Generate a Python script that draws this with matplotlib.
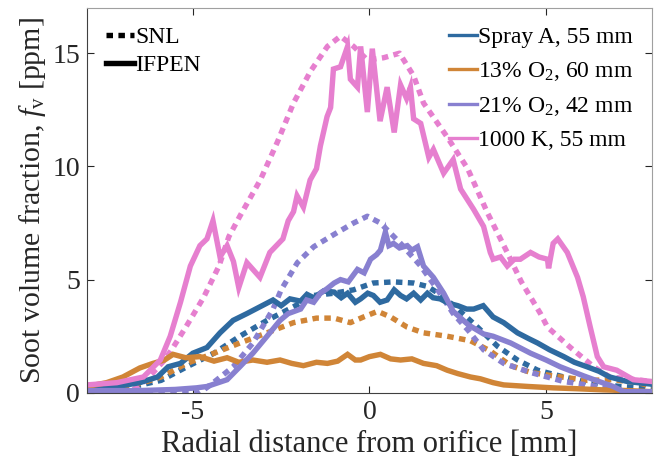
import matplotlib
matplotlib.use("Agg")
import matplotlib.pyplot as plt
from matplotlib.lines import Line2D

plt.rcParams["font.family"] = ["Liberation Serif", "DejaVu Serif"]
plt.rcParams["mathtext.fontset"] = "custom"
plt.rcParams["mathtext.rm"] = "Liberation Serif"
plt.rcParams["mathtext.it"] = "Liberation Serif:italic"
plt.rcParams["axes.unicode_minus"] = False

# SNL (dashed) profiles
snl_sprayA_x = [-8, -6.7, -5.9, -5.17, -4.4, -3.67, -2.9, -2.15, -1.58, -1.0, -0.45, 0.1, 0.68, 1.25, 1.64, 2.0,
                2.5, 3.06, 3.63, 4.19, 4.76, 5.5, 6.26, 7.1, 8]
snl_sprayA_y = [0.13, 0.27, 0.55, 1.15, 1.75, 2.5, 3.2, 3.8, 4.3, 4.4, 4.55, 4.85, 4.9, 4.85, 4.7, 4.35,
                3.7, 2.9, 2.05, 1.45, 1.0, 0.7, 0.43, 0.28, 0.2]

snl_o13_x = [-8, -7, -6.4, -5.9, -5.17, -4.4, -3.67, -2.9, -2.15, -1.5, -1.0, -0.54, -0.17, 0.23, 0.6, 1.07,
             1.53, 2.2, 2.86, 3.42, 4.0, 4.56, 5.2, 6.16, 6.9, 7.6, 8]
snl_o13_y = [0.13, 0.25, 0.45, 0.7, 1.3, 1.75, 2.2, 2.65, 3.1, 3.3, 3.3, 3.1, 3.35, 3.6, 3.35, 2.9,
             2.65, 2.5, 2.3, 1.85, 1.2, 0.9, 0.75, 0.55, 0.58, 0.45, 0.28]

snl_o21_x = [-8, -4.8, -4.42, -3.86, -3.3, -2.73, -2.5, -2.04, -1.58, -1.0, -0.45, -0.06, 0.31, 0.88, 1.45,
             1.93, 2.37, 2.8, 3.23, 3.8, 4.56, 5.5, 6.45, 7.2, 8]
snl_o21_y = [0.0, 0.0, 0.45, 1.15, 2.2, 3.7, 4.55, 5.75, 6.45, 7.0, 7.5, 7.8, 7.5, 6.6, 5.6,
             4.55, 3.5, 2.75, 1.9, 1.3, 0.9, 0.5, 0.28, 0.05, 0.05]

snl_1000k_x = [-8, -6.8, -6.3, -5.8, -5.56, -5.2, -4.7, -4.26, -3.98, -3.67, -3.09, -2.6, -2.15, -1.67, -1.19,
               -0.82, -0.45, -0.06, 0.4, 0.85, 1.25, 1.53, 2.2, 2.78, 3.34, 3.9, 4.3, 4.84, 5.04, 5.69, 6.35,
               6.8, 7.6, 8]
snl_1000k_y = [0.0, 0.0, 0.6, 1.45, 2.0, 2.9, 4.2, 5.6, 6.9, 7.8, 9.4, 11.1, 12.8, 14.2, 15.3,
               15.75, 15.3, 14.7, 14.8, 15.0, 14.0, 12.8, 11.3, 9.9, 7.95, 6.2, 4.9, 3.5, 2.9, 2.0, 1.15,
               0.7, 0.57, 0.5]

# IFPEN (solid) profiles
ifp_sprayA_x = [-8, -7.15, -6.5, -6.0, -5.7, -5.35, -5.0, -4.6, -4.23, -3.86, -3.47, -3.1, -2.73, -2.5, -2.25,
                -1.95, -1.77, -1.58, -1.3, -1.0, -0.8, -0.62, -0.4, -0.25, -0.05, 0.11, 0.3, 0.5, 0.7, 0.88,
                1.05, 1.25, 1.45, 1.64, 1.8, 2.0, 2.25, 2.5, 2.75, 2.95, 3.22, 3.5, 3.8, 4.19, 4.5, 4.76,
                5.1, 5.5, 5.8, 6.16, 6.5, 6.8, 7.3, 8]
ifp_sprayA_y = [0.22, 0.28, 0.45, 0.7, 1.15, 1.3, 1.75, 2.0, 2.65, 3.2, 3.5, 3.8, 4.1, 3.85, 4.15,
                4.05, 4.35, 4.2, 4.5, 4.45, 4.2, 4.4, 4.0, 4.15, 4.4, 4.3, 4.0, 4.1, 4.55, 4.3,
                4.15, 4.4, 4.1, 4.4, 4.2, 4.15, 3.95, 3.85, 3.7, 3.7, 3.85, 3.35, 3.1, 2.65, 2.4, 2.2,
                1.9, 1.6, 1.35, 1.15, 0.95, 0.7, 0.5, 0.38]

ifp_o13_x = [-8, -7.44, -6.98, -6.5, -6.13, -5.8, -5.56, -5.2, -4.8, -4.4, -4.03, -3.7, -3.3, -2.9, -2.53,
             -2.2, -1.87, -1.5, -1.19, -0.9, -0.62, -0.4, -0.25, 0.0, 0.31, 0.6, 0.88, 1.2, 1.53, 1.9,
             2.2, 2.5, 2.86, 3.14, 3.5, 3.8, 4.5, 5.2, 5.9, 6.63, 7.3, 8]
ifp_o13_y = [0.28, 0.45, 0.7, 1.1, 1.3, 1.45, 1.7, 1.55, 1.6, 1.4, 1.55, 1.35, 1.45, 1.35, 1.45,
             1.3, 1.2, 1.35, 1.3, 1.4, 1.7, 1.45, 1.45, 1.6, 1.7, 1.5, 1.45, 1.5, 1.3, 1.2,
             1.0, 0.85, 0.7, 0.62, 0.45, 0.35, 0.28, 0.22, 0.18, 0.13, 0.1, 0.05]

ifp_o21_x = [-8, -6.5, -5.5, -4.9, -4.6, -4.03, -3.67, -3.3, -2.9, -2.53, -2.3, -1.95, -1.78, -1.58, -1.39,
             -1.2, -1.0, -0.82, -0.6, -0.34, -0.15, 0.03, 0.2, 0.31, 0.45, 0.55, 0.68, 0.85, 1.07, 1.2,
             1.36, 1.53, 1.81, 2.1, 2.37, 2.8, 3.23, 3.5, 4.0, 4.56, 5.0, 5.4, 6.06, 6.5, 6.9, 7.2, 8]
ifp_o21_y = [0.1, 0.1, 0.15, 0.22, 0.28, 0.58, 1.15, 1.75, 2.5, 3.2, 3.5, 3.7, 4.1, 4.0, 4.4,
             4.6, 4.85, 5.0, 4.9, 5.45, 5.3, 5.9, 6.1, 6.3, 7.1, 6.5, 6.6, 6.4, 6.5, 6.3,
             6.45, 5.6, 5.1, 4.4, 3.6, 3.0, 2.6, 2.5, 2.2, 1.75, 1.45, 1.15, 0.75, 0.5, 0.28, 0.05, 0.05]

ifp_1000k_x = [-8, -7.15, -6.4, -5.92, -5.64, -5.35, -5.07, -4.8, -4.6, -4.43, -4.23, -4.03, -3.85, -3.7, -3.47,
               -3.1, -2.82, -2.45, -2.3, -2.15, -2.05, -1.87, -1.68, -1.5, -1.39, -1.2, -1.1, -1.02, -0.82,
               -0.62, -0.54, -0.34, -0.25, -0.06, 0.08, 0.3, 0.5, 0.7, 0.88, 1.05, 1.16, 1.25, 1.45, 1.68,
               1.81, 2.1, 2.37, 2.58, 2.95, 3.23, 3.42, 3.5, 3.71, 3.9, 4.1, 4.27, 4.56, 4.8, 5.04, 5.07,
               5.2, 5.33, 5.6, 5.89, 6.05, 6.25, 6.45, 6.63, 7.0, 7.47, 8]
ifp_1000k_y = [0.35, 0.45, 0.7, 1.45, 2.5, 4.0, 5.6, 6.5, 6.8, 7.6, 6.0, 6.5, 5.8, 4.65, 5.75,
               5.1, 6.2, 6.8, 7.6, 8.0, 8.7, 8.2, 9.4, 9.9, 10.9, 12.2, 12.6, 14.3, 14.4,
               15.3, 13.85, 13.5, 15.3, 12.4, 15.2, 12.0, 13.5, 11.5, 13.6, 13.0, 13.5, 12.1, 11.9, 10.4,
               10.75, 9.7, 10.3, 9.0, 8.1, 7.35, 6.2, 5.9, 6.0, 5.6, 5.9, 5.9, 6.2, 6.0, 5.9, 5.5,
               6.6, 6.8, 6.2, 5.1, 4.25, 2.9, 1.6, 1.15, 1.0, 0.58, 0.5]

labels = ["Spray A, 55 mm", "13% O$_2$, 60 mm", "21% O$_2$, 42 mm", "1000 K, 55 mm"]
colors = ["#2e6aa0", "#d08537", "#8880d0", "#e67fcf"]

snl = [(snl_sprayA_x, snl_sprayA_y), (snl_o13_x, snl_o13_y), (snl_o21_x, snl_o21_y), (snl_1000k_x, snl_1000k_y)]
ifp = [(ifp_sprayA_x, ifp_sprayA_y), (ifp_o13_x, ifp_o13_y), (ifp_o21_x, ifp_o21_y), (ifp_1000k_x, ifp_1000k_y)]

fig = plt.figure(figsize=(6.58, 4.66), dpi=100)
ax = fig.add_axes([0.132, 0.157, 0.859, 0.826])

lw = 3.9
dots = (0, (1.2, 1.0))
for (x, y), c in zip(snl, colors):
    ax.plot(x, y, color=c, lw=lw, linestyle=dots, dash_capstyle="butt")
for (x, y), c in zip(ifp, colors):
    ax.plot(x, y, color=c, lw=lw, solid_joinstyle="miter")

ax.set_xlim(-8, 8)
ax.set_ylim(0, 17)
ax.set_xticks([-5, 0, 5])
ax.set_yticks([0, 5, 10, 15])
ax.tick_params(direction="in", top=True, right=True, length=5, labelsize=20, colors="#262626", pad=5)
for s in ["left", "bottom"]:
    ax.spines[s].set_color("#404040")
for s in ["top", "right"]:
    ax.spines[s].set_color("#a0a0a0")
ax.set_xlabel("Radial distance from orifice [mm]", fontsize=22, color="#262626", labelpad=4)
ax.set_ylabel("Soot volume fraction, $\\mathit{f}_\\mathrm{v}$ [ppm]", fontsize=21.5, color="#262626", labelpad=3)

h1 = [Line2D([], [], color="k", lw=lw, linestyle=dots), Line2D([], [], color="k", lw=lw)]
leg1 = ax.legend(h1, ["SNL", "IFPEN"], loc="upper left", bbox_to_anchor=(0.0, 1.0), frameon=False,
                 fontsize=17, handlelength=1.2, handletextpad=0.05, labelspacing=0.25, borderaxespad=0.4)
ax.add_artist(leg1)
h2 = [Line2D([], [], color=c, lw=2.4) for c in colors]
ax.legend(h2, labels, loc="upper right", bbox_to_anchor=(1.0, 1.0), frameon=False,
          fontsize=17, handlelength=1.2, handletextpad=0.05, labelspacing=0.5, borderaxespad=0.4)

fig.savefig("out.png", dpi=100)
